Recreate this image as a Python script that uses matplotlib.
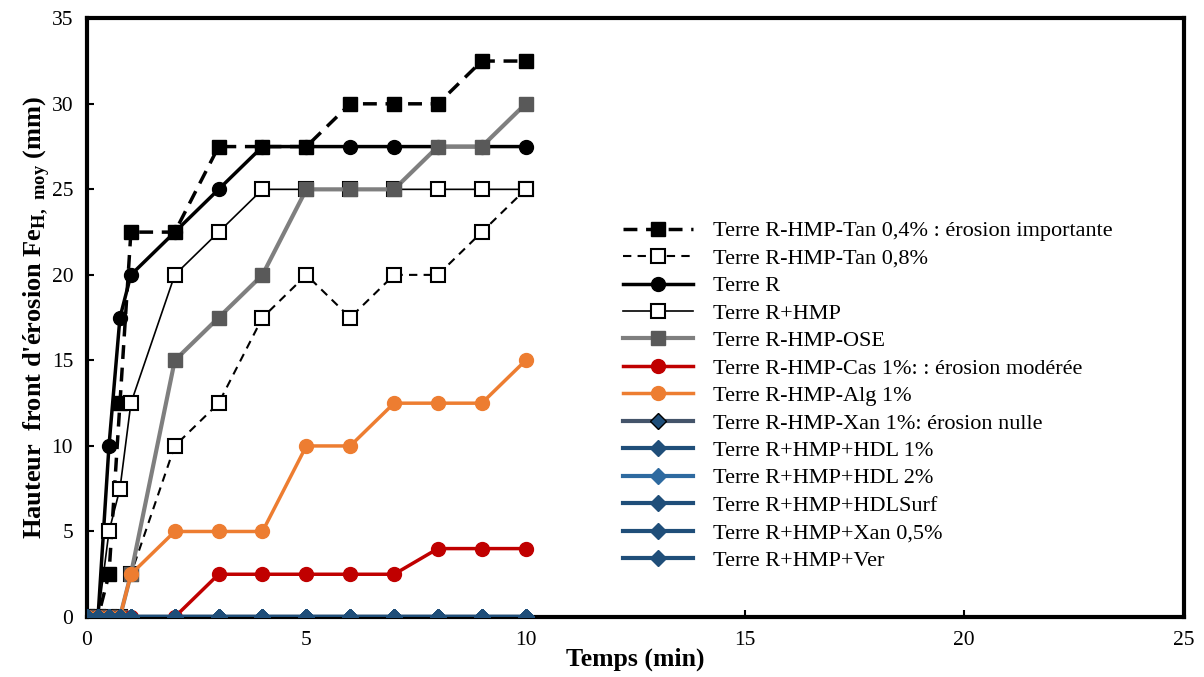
import numpy as np
import matplotlib
matplotlib.use('Agg')
import matplotlib.pyplot as plt

plt.rcParams['font.family'] = ['Liberation Serif', 'DejaVu Serif']
plt.rcParams['mathtext.fontset'] = 'custom'
plt.rcParams['mathtext.rm'] = 'Liberation Serif'
plt.rcParams['mathtext.bf'] = 'Liberation Serif:bold'

# time points (min)
t = [0, 0.25, 0.5, 0.75, 1, 2, 3, 4, 5, 6, 7, 8, 9, 10]

# erosion front height (mm)
tan04 = [0, 0, 2.5, 12.5, 22.5, 22.5, 27.5, 27.5, 27.5, 30, 30, 30, 32.5, 32.5]
tan08 = [0, 0, 0, 0, 2.5, 10, 12.5, 17.5, 20, 17.5, 20, 20, 22.5, 25]
terre_r = [0, 0, 10, 17.5, 20, 22.5, 25, 27.5, 27.5, 27.5, 27.5, 27.5, 27.5, 27.5]
r_hmp = [0, 0, 5, 7.5, 12.5, 20, 22.5, 25, 25, 25, 25, 25, 25, 25]
ose = [0, 0, 0, 0, 2.5, 15, 17.5, 20, 25, 25, 25, 27.5, 27.5, 30]
cas1 = [0, 0, 0, 0, 0, 0, 2.5, 2.5, 2.5, 2.5, 2.5, 4, 4, 4]
alg1 = [0, 0, 0, 0, 2.5, 5, 5, 5, 10, 10, 12.5, 12.5, 12.5, 15]
zero = [0] * len(t)

labels = [
    "Terre R-HMP-Tan 0,4% : érosion importante",
    "Terre R-HMP-Tan 0,8%",
    "Terre R",
    "Terre R+HMP",
    "Terre R-HMP-OSE",
    "Terre R-HMP-Cas 1%: : érosion modérée",
    "Terre R-HMP-Alg 1%",
    "Terre R-HMP-Xan 1%: érosion nulle",
    "Terre R+HMP+HDL 1%",
    "Terre R+HMP+HDL 2%",
    "Terre R+HMP+HDLSurf",
    "Terre R+HMP+Xan 0,5%",
    "Terre R+HMP+Ver",
]

fig = plt.figure(figsize=(12.04, 6.77), dpi=100)
ax = fig.add_axes([0.0723, 0.0886, 0.9107, 0.8844])

ms = 10
ax.plot(t, tan04, ls=(0, (4, 2.5)), lw=2.5, color='black', marker='s', ms=ms,
        mfc='black', mec='black', label=labels[0], zorder=3)
ax.plot(t, tan08, ls=(0, (4, 3)), lw=1.5, color='black', marker='s', ms=ms,
        mfc='white', mec='black', mew=1.5, label=labels[1], zorder=3)
ax.plot(t, terre_r, ls='-', lw=2.5, color='black', marker='o', ms=ms,
        mfc='black', mec='black', label=labels[2], zorder=3)
ax.plot(t, r_hmp, ls='-', lw=1.2, color='black', marker='s', ms=ms,
        mfc='white', mec='black', mew=1.5, label=labels[3], zorder=3)
ax.plot(t, ose, ls='-', lw=3, color='#7f7f7f', marker='s', ms=ms,
        mfc='#595959', mec='#595959', label=labels[4], zorder=3)
ax.plot(t, cas1, ls='-', lw=2.5, color='#c00000', marker='o', ms=ms,
        mfc='#c00000', mec='#c00000', label=labels[5], zorder=3)
ax.plot(t, alg1, ls='-', lw=2.5, color='#ed7d31', marker='o', ms=ms,
        mfc='#ed7d31', mec='#ed7d31', label=labels[6], zorder=3)
ax.plot(t, zero, ls='-', lw=3, color='#44546a', marker='D', ms=8,
        mfc='#1f4e79', mec='black', mew=1, label=labels[7], zorder=4)
blues = ['#1f4e79', '#2e6aa0', '#1f4e79', '#1f4e79', '#1f4e79']
for lab, c in zip(labels[8:], blues):
    ax.plot(t, zero, ls='-', lw=3, color=c, marker='D', ms=8,
            mfc=c, mec=c, label=lab, zorder=4)

ax.set_xlim(0, 25)
ax.set_ylim(0, 35)
ax.set_xticks([0, 5, 10, 15, 20, 25])
ax.set_yticks(range(0, 36, 5))
for s in ax.spines.values():
    s.set_linewidth(3)
ax.tick_params(direction='in', length=5, width=1.5, labelsize=15.5, pad=10)

ax.set_xlabel("Temps (min)", fontsize=18.5, fontweight='bold', labelpad=-2)
ax.set_ylabel(r"Hauteur  front d'érosion Fe$_{\mathbf{H,\ moy}}$ (mm)",
              fontsize=19, fontweight='bold', labelpad=0)

leg = ax.legend(loc='upper left', bbox_to_anchor=(0.471, 0.695), frameon=False,
                fontsize=16, handlelength=3.15, labelspacing=0.31,
                handletextpad=0.9)
for h in leg.legend_handles:
    h.set_clip_on(False)

fig.savefig('out.png', dpi=100)
